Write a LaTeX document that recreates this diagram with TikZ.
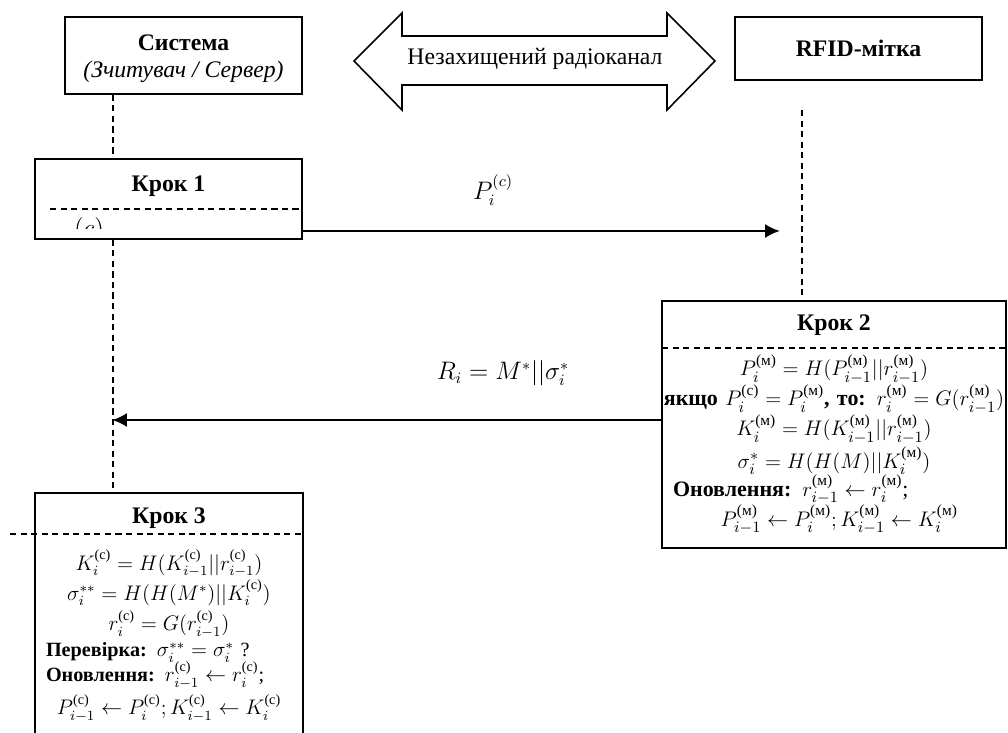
\documentclass[tikz,border=0pt]{standalone}
\usepackage{amsmath}
\usepackage{fontspec}
\setmainfont{Liberation Serif}
\usetikzlibrary{arrows.meta}

\newcommand{\sysup}{\text{(с)}}
\newcommand{\tagup}{\text{(м)}}
\newcommand{\stepmid}[1]{\makebox[\linewidth][c]{#1}}
\newcommand{\stepleft}[1]{\makebox[\linewidth][l]{#1}}
\newcommand{\tagfont}{\fontsize{12.5}{17}\selectfont\lineskiplimit=-\maxdimen\relax}
\newcommand{\sysfont}{\fontsize{11.5}{16.5}\selectfont\lineskiplimit=-\maxdimen\relax}

\begin{document}
\begin{tikzpicture}[x=0.02cm,y=-0.02cm,>={Latex[length=8.5pt,width=8pt]},
		every node/.style={font=\fontsize{13.5}{17}\selectfont},
		box/.style={draw,line width=0.9pt,inner sep=0pt},
		body/.style={anchor=base,inner sep=0pt,align=left},
		life/.style={line width=1.1pt,dash pattern=on 3.5pt off 2.5pt},
		msg/.style={->,line width=1.4pt}]
			\useasboundingbox (0,0) rectangle (1008,733);

			\node[box,minimum width=4.74cm,minimum height=1.54cm] (SYS) at (183.5,55.5) {};
			\node[align=center,font=\fontsize{13.5}{15.5}\selectfont] (SYSt) at (183.5,58.5)
				{\textbf{Система}\\\textit{(Зчитувач / Сервер)}};
			\node[box,minimum width=4.94cm,minimum height=1.26cm] (TAG) at (858.5,48.5) {\textbf{RFID-мітка}};

			\draw[line width=0.9pt] (354,61) -- (402,13) -- (402,36) -- (667,36) -- (667,13) -- (715,61)
				-- (667,110) -- (667,85) -- (402,85) -- (402,110) -- cycle;
			\node (CH) at (535,59) {Незахищений радіоканал};

			\node[box,minimum width=5.34cm,minimum height=1.6cm] (K1) at (168.5,199) {};
			\node (K1t) at (168.5,186) {\textbf{Крок 1}};
			\draw[life] (50,209) -- (302,209);
			\begin{scope}
				\clip (36,210) rectangle (301,229);
				\node[font=\fontsize{15}{17}\selectfont] (K1a) at (89,230) {$(c)$};
			\end{scope}

			\node[box,minimum width=6.88cm,minimum height=4.94cm] (K2) at (834,424.5) {};
			\node (K2t) at (834,325) {\textbf{Крок 2}};
			\draw[life] (662,348) -- (1012,348);
			\node[body,text width=6.44cm,font=\tagfont] (K2b) at (834,376) {%
				\stepmid{$P_i^{\tagup} = H(P_{i-1}^{\tagup}||r_{i-1}^{\tagup})$}\\
				\stepmid{\textbf{якщо} $P_i^{\sysup} = P_i^{\tagup}$\textbf{, то:} $r_i^{\tagup} = G(r_{i-1}^{\tagup})$}\\
				\stepmid{$K_i^{\tagup} = H(K_{i-1}^{\tagup}||r_{i-1}^{\tagup})$}\\[1.5pt]
				\stepmid{$\sigma_i^* = H(H(M)||K_i^{\tagup})$}\\[-1pt]
				\stepleft{\textbf{Оновлення:} $r_{i-1}^{\tagup} \leftarrow r_i^{\tagup}$;}\\
				\stepmid{\hspace{6pt}$P_{i-1}^{\tagup} \leftarrow P_i^{\tagup}; K_{i-1}^{\tagup} \leftarrow K_i^{\tagup}$}};

			\node[box,minimum width=5.36cm,minimum height=5.4cm] (K3) at (169,628) {};
			\node (K3t) at (169,518) {\textbf{Крок 3}};
			\draw[life] (10,534) -- (303,534);
			\node[body,text width=4.92cm,font=\sysfont] (K3b) at (169,570) {%
				\stepmid{$K_i^{\sysup} = H(K_{i-1}^{\sysup}||r_{i-1}^{\sysup})$}\\[0.6pt]
				\stepmid{$\sigma_i^{**} = H(H(M^*)||K_i^{\sysup})$}\\[1.1pt]
				\stepmid{$r_i^{\sysup} = G(r_{i-1}^{\sysup})$}\\[-1.7pt]
				\stepleft{\textbf{Перевірка:} $\sigma_i^{**} = \sigma_i^*$ ?}\\[-2.3pt]
				\stepleft{\textbf{Оновлення:} $r_{i-1}^{\sysup} \leftarrow r_i^{\sysup}$;}\\[2.3pt]
				\stepmid{$P_{i-1}^{\sysup} \leftarrow P_i^{\sysup}; K_{i-1}^{\sysup} \leftarrow K_i^{\sysup}$}};

			\coordinate (LL) at (113,0);
			\coordinate (RL) at (802,110);
			\coordinate (a1) at (780,231);
			\coordinate (a2) at (112,420);

			\draw[life] (SYS.south -| LL) -- (K1.north -| LL);
			\draw[life] (K1.south -| LL) -- (K3.north -| LL);
			\draw[life] (RL) -- (K2.north -| RL);

			\draw[msg] (K1.east |- a1) -- (a1);
			\node (m1) at (493,190) {$P_i^{(c)}$};
			\draw[msg] (K2.west |- a2) -- (a2);
			\node (m2) at (503,373) {$R_i = M^*||\sigma_i^*$};
		\end{tikzpicture}
\end{document}
